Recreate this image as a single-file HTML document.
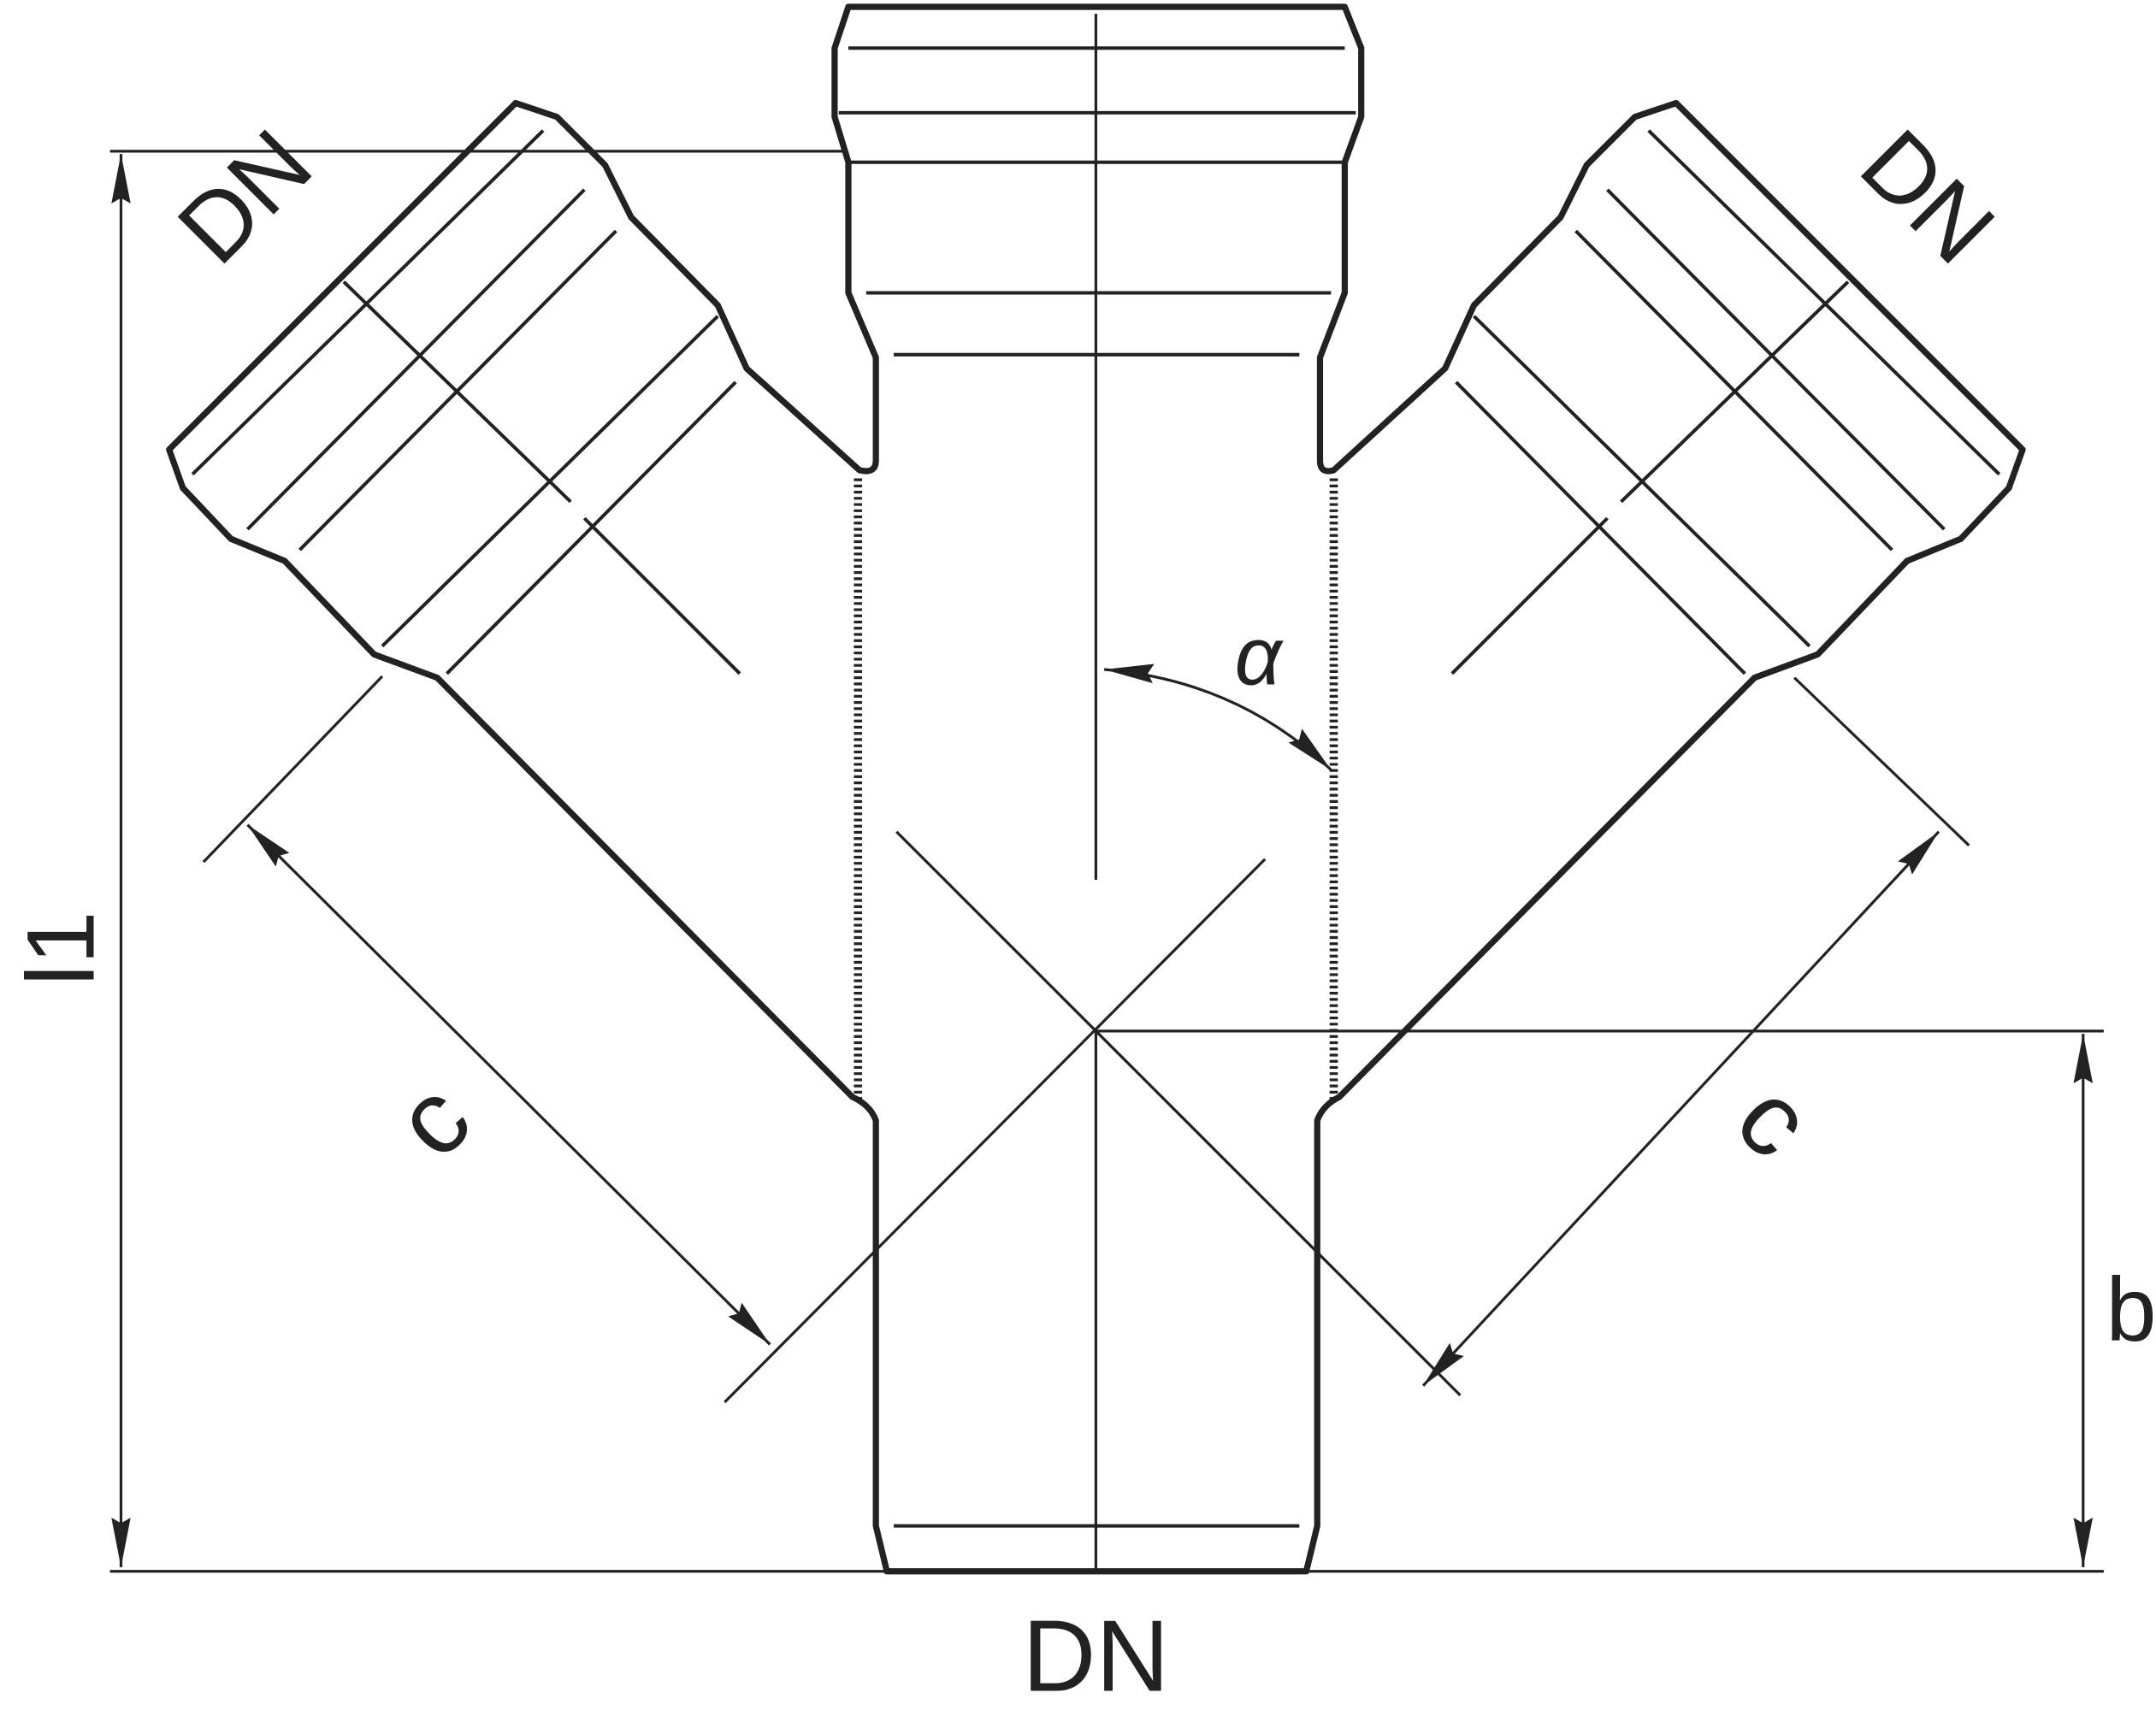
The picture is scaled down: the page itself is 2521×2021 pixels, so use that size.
<!DOCTYPE html>
<html><head><meta charset="utf-8"><style>html,body{margin:0;padding:0;background:#fff}svg{display:block}</style></head>
<body>
<svg width="2521" height="2021" viewBox="0 0 1568 1257" preserveAspectRatio="none" xmlns="http://www.w3.org/2000/svg">
<defs><marker id="a" markerWidth="36" markerHeight="14" refX="36" refY="7" orient="auto-start-reverse" markerUnits="userSpaceOnUse"><path d="M0,0 L36,7 L0,14 L4,7 z" fill="#222"/></marker></defs>
<g fill="none" stroke="#222" stroke-linejoin="round">
<path stroke-width="4.5" d="M617,5 L978,5 L990,35 L990,85 L978,118 L978,213 L960,260 L960,335 Q960,345 970,342 L1051,268 L1072,222 L1135,158 L1154,120 L1189,85 L1219,75 L1471,327 L1461,355 L1426,392 L1387,408 L1322,476 L1276,493 L974,798 Q962,804 958,815 L958,1110 L950,1143 L645,1143 L637,1110 L637,815 Q633,804 620,798 L318,493 L272,476 L207,408 L168,392 L133,355 L123,327 L375,75 L405,85 L440,120 L459,158 L522,222 L543,268 L625,342 Q637,345 637,335 L637,260 L617,213 L617,118 L607,85 L607,35 Z"/>
<g stroke-width="2.5">
<line x1="617" y1="35" x2="978" y2="35"/><line x1="610" y1="82" x2="986" y2="82"/>
<line x1="617" y1="118" x2="978" y2="118"/><line x1="630" y1="213" x2="968" y2="213"/>
<line x1="650" y1="258" x2="945" y2="258"/><line x1="650" y1="1110" x2="945" y2="1110"/>
<line x1="140" y1="345" x2="395" y2="95"/><line x1="180" y1="385" x2="425" y2="138"/>
<line x1="218" y1="400" x2="448" y2="168"/><line x1="278" y1="470" x2="522" y2="230"/>
<line x1="325" y1="490" x2="535" y2="278"/>
<line x1="250" y1="205" x2="415" y2="365"/><line x1="425" y1="377" x2="538" y2="490"/>
<line x1="1454" y1="345" x2="1199" y2="95"/><line x1="1414" y1="385" x2="1169" y2="138"/>
<line x1="1376" y1="400" x2="1146" y2="168"/><line x1="1316" y1="470" x2="1072" y2="230"/>
<line x1="1269" y1="490" x2="1059" y2="278"/>
<line x1="1344" y1="205" x2="1179" y2="365"/><line x1="1169" y1="377" x2="1056" y2="490"/>
</g>
<line x1="624" y1="348" x2="624" y2="800" stroke-width="6" stroke-dasharray="2 2.5"/>
<line x1="970" y1="348" x2="970" y2="800" stroke-width="6" stroke-dasharray="2 2.5"/>
<g stroke-width="2">
<line x1="797" y1="10" x2="797" y2="640"/><line x1="797" y1="750" x2="797" y2="1143"/>
<line x1="527" y1="1020" x2="920" y2="625"/><line x1="652" y1="605" x2="1062" y2="1015"/>
<line x1="80" y1="110" x2="615" y2="110"/><line x1="80" y1="1143" x2="1530" y2="1143"/>
<line x1="797" y1="750" x2="1530" y2="750"/>
<line x1="88" y1="112" x2="88" y2="1140" marker-start="url(#a)" marker-end="url(#a)"/>
<line x1="1515" y1="752" x2="1515" y2="1140" marker-start="url(#a)" marker-end="url(#a)"/>
<line x1="278" y1="492" x2="148" y2="627"/><line x1="1305" y1="493" x2="1432" y2="615"/>
<line x1="180" y1="600" x2="560" y2="978" marker-start="url(#a)" marker-end="url(#a)"/>
<line x1="1410" y1="605" x2="1035" y2="1008" marker-start="url(#a)" marker-end="url(#a)"/>
<path d="M803,487 Q900,495 968,560" marker-start="url(#a)" marker-end="url(#a)"/>
</g>
</g>
<g font-family="Liberation Sans, sans-serif" fill="#222">
<text x="797" y="1230" font-size="74" text-anchor="middle">DN</text>
<text x="1550" y="975" font-size="66" text-anchor="middle">b</text>
<text transform="translate(68,690) rotate(-90)" font-size="70" text-anchor="middle">l1</text>
<text transform="translate(195,160) rotate(-45)" font-size="70" text-anchor="middle">DN</text>
<text transform="translate(1385,160) rotate(45)" font-size="70" text-anchor="middle">DN</text>
<text transform="translate(333,833) rotate(-45)" font-size="76" text-anchor="middle">c</text>
<text transform="translate(1272,833) rotate(45)" font-size="76" text-anchor="middle">c</text>
<text x="915" y="498" font-size="60" font-style="italic" text-anchor="middle">α</text>
</g>
</svg>
</body></html>
